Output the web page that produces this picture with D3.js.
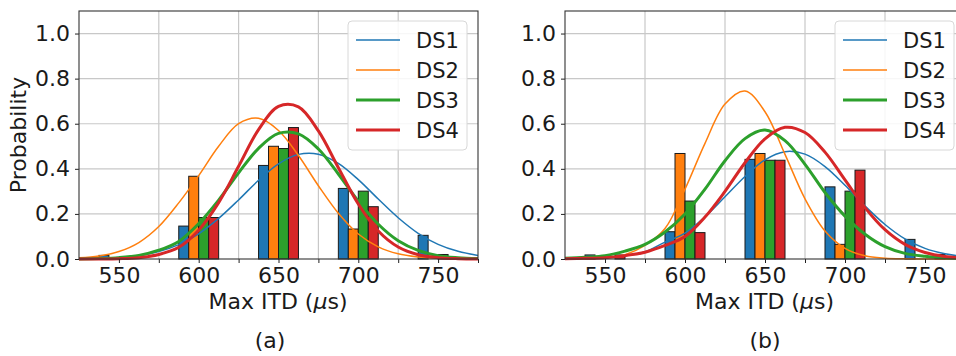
<!DOCTYPE html>
<html>
<head>
<meta charset="utf-8">
<script src="https://cdn.jsdelivr.net/npm/d3@7"></script>
<style>
  body { margin: 0; background: #fff; }
  text { font-family: "DejaVu Sans", sans-serif; fill: #1a1a1a; }
</style>
</head>
<body>
<div id="chart"></div>
<script>
// histogram bins (centre of each 25us bin that has bars) and series
var bins = [550, 600, 650, 700, 750];
var seriesNames = ["DS1", "DS2", "DS3", "DS4"];
var seriesColors = ["#1f77b4", "#ff7f0e", "#2ca02c", "#d62728"];
var seriesWidths = [1.5, 1.5, 3, 3];

// panel (a) bar heights
var barsA_DS1 = [0.016, 0.146, 0.415, 0.313, 0.105];
var barsA_DS2 = [0, 0.367, 0.500, 0.133, 0];
var barsA_DS3 = [0, 0.184, 0.490, 0.301, 0.020];
var barsA_DS4 = [0, 0.184, 0.583, 0.232, 0];

// panel (b) bar heights
var barsB_DS1 = [0.018, 0.121, 0.442, 0.320, 0.087];
var barsB_DS2 = [0, 0.468, 0.468, 0.065, 0];
var barsB_DS3 = [0, 0.257, 0.438, 0.301, 0];
var barsB_DS4 = [0.018, 0.117, 0.438, 0.394, 0.020];

// fitted curves at these x positions
var curveX = [525, 537.5, 550, 562.5, 575, 587.5, 600, 612.5, 625, 637.5, 650,
              662.5, 675, 687.5, 700, 712.5, 725, 737.5, 750, 762.5, 775];

var curveA_DS1 = [0.001, 0.003, 0.007, 0.015, 0.033, 0.064, 0.112, 0.180, 0.262, 0.349, 0.422,
                  0.464, 0.465, 0.424, 0.352, 0.266, 0.183, 0.114, 0.065, 0.034, 0.016];
var curveA_DS2 = [0.005, 0.013, 0.033, 0.073, 0.144, 0.249, 0.370, 0.500, 0.600, 0.624, 0.570,
                  0.459, 0.325, 0.203, 0.111, 0.054, 0.023, 0.009, 0.003, 0.001, 0.0003];
var curveA_DS3 = [0.0005, 0.002, 0.006, 0.016, 0.039, 0.078, 0.157, 0.261, 0.382, 0.491, 0.557,
                  0.555, 0.488, 0.377, 0.256, 0.154, 0.081, 0.038, 0.015, 0.006, 0.002];
var curveA_DS4 = [0, 0.0004, 0.0016, 0.006, 0.020, 0.052, 0.128, 0.250, 0.411, 0.574, 0.677,
                  0.675, 0.568, 0.405, 0.244, 0.124, 0.053, 0.019, 0.006, 0.0015, 0.0003];

var curveB_DS1 = [0.0007, 0.002, 0.006, 0.014, 0.032, 0.075, 0.115, 0.187, 0.276, 0.366, 0.440,
                  0.476, 0.465, 0.410, 0.327, 0.235, 0.153, 0.089, 0.047, 0.023, 0.010];
var curveB_DS2 = [0.0002, 0.001, 0.005, 0.019, 0.060, 0.135, 0.310, 0.513, 0.687, 0.745, 0.653,
                  0.464, 0.267, 0.124, 0.047, 0.014, 0.0035, 0.0007, 0, 0, 0];
var curveB_DS3 = [0.003, 0.008, 0.015, 0.035, 0.065, 0.120, 0.200, 0.310, 0.436, 0.534, 0.572,
                  0.525, 0.420, 0.295, 0.190, 0.110, 0.055, 0.025, 0.012, 0.005, 0.002];
var curveB_DS4 = [0.001, 0.003, 0.006, 0.015, 0.030, 0.060, 0.100, 0.186, 0.300, 0.427, 0.533,
                  0.584, 0.561, 0.474, 0.351, 0.228, 0.130, 0.065, 0.029, 0.011, 0.004];

// axis ticks
var xTicks = [550, 575, 600, 625, 650, 675, 700, 725, 750, 775];
var xTickLabels = [550, 600, 650, 700, 750];
var xGrid = [575, 625, 675, 725];
var yTicks = [0, 0.2, 0.4, 0.6, 0.8, 1.0];

var width = 956, height = 356;
var plotTop = 11, plotBottom = 259;

var svg = d3.select("#chart").append("svg")
    .attr("width", width)
    .attr("height", height);

var panels = [
    { left: 79, right: 478, tag: "(a)", tagX: 270,
      bars: [barsA_DS1, barsA_DS2, barsA_DS3, barsA_DS4],
      curves: [curveA_DS1, curveA_DS2, curveA_DS3, curveA_DS4] },
    { left: 565, right: 965, tag: "(b)", tagX: 765,
      bars: [barsB_DS1, barsB_DS2, barsB_DS3, barsB_DS4],
      curves: [curveB_DS1, curveB_DS2, curveB_DS3, curveB_DS4] }
];

panels.forEach(function(p, pi) {
    var x = d3.scaleLinear().domain([525, 775]).range([p.left, p.right]);
    var y = d3.scaleLinear().domain([0, 1.1]).range([plotBottom, plotTop]);
    // each bin is 25 wide, split into 4 bars
    var inner = d3.scaleBand().domain(seriesNames).range([0, x(550) - x(525)]);

    var g = svg.append("g");

    // grid
    g.selectAll(".gx").data(xGrid).enter().append("line")
        .attr("x1", function(d) { return x(d); })
        .attr("x2", function(d) { return x(d); })
        .attr("y1", plotTop).attr("y2", plotBottom)
        .style("stroke", "#c8c8c8").style("stroke-width", 1.2);
    g.selectAll(".gy").data(yTicks.slice(1)).enter().append("line")
        .attr("x1", p.left).attr("x2", p.right)
        .attr("y1", function(d) { return y(d); })
        .attr("y2", function(d) { return y(d); })
        .style("stroke", "#c8c8c8").style("stroke-width", 1.2);

    // bars
    seriesNames.forEach(function(name, si) {
        var rows = bins.map(function(b, bi) { return { bin: b, v: p.bars[si][bi] }; })
            .filter(function(d) { return d.v > 0; });
        g.selectAll(".bar" + si).data(rows).enter().append("rect")
            .attr("x", function(d) { return x(d.bin - 12.5) + inner(name); })
            .attr("y", function(d) { return y(d.v); })
            .attr("width", inner.bandwidth())
            .attr("height", function(d) { return y(0) - y(d.v); })
            .style("fill", seriesColors[si])
            .style("stroke", "#1a1a1a")
            .style("stroke-width", 1);
    });

    // fitted curves
    var line = d3.line()
        .x(function(d) { return x(d[0]); })
        .y(function(d) { return y(d[1]); })
        .curve(d3.curveCatmullRom);
    seriesNames.forEach(function(name, si) {
        g.append("path")
            .datum(d3.zip(curveX, p.curves[si]))
            .attr("d", line)
            .style("fill", "none")
            .style("stroke", seriesColors[si])
            .style("stroke-width", seriesWidths[si]);
    });

    // axes
    var xAxis = g.append("g")
        .attr("transform", "translate(0," + plotBottom + ")")
        .call(d3.axisBottom(x).tickValues(xTicks).tickSizeInner(4).tickSizeOuter(0).tickPadding(4)
            .tickFormat(function(d) { return xTickLabels.indexOf(d) >= 0 ? d : ""; }));
    var yAxis = g.append("g")
        .attr("transform", "translate(" + p.left + ",0)")
        .call(d3.axisLeft(y).tickValues(yTicks).tickSizeInner(4).tickSizeOuter(0).tickPadding(5)
            .tickFormat(d3.format(".1f")));
    [xAxis, yAxis].forEach(function(a) {
        a.select(".domain").remove();
        a.selectAll("line").style("stroke", "#222").style("stroke-width", 1);
        a.selectAll("text").style("font-size", "22px").style("font-family", "DejaVu Sans");
    });

    // frame
    g.append("rect")
        .attr("x", p.left).attr("y", plotTop)
        .attr("width", p.right - p.left).attr("height", plotBottom - plotTop)
        .style("fill", "none").style("stroke", "#333").style("stroke-width", 1.1);

    // legend
    var lg = g.append("g").attr("transform", "translate(" + (p.right - 130) + ",21)");
    lg.append("rect")
        .attr("width", 119).attr("height", 129).attr("rx", 4)
        .style("fill", "#fff").style("fill-opacity", 0.85)
        .style("stroke", "#d8d8d8").style("stroke-width", 1);
    seriesNames.forEach(function(name, si) {
        var yy = 19 + si * 30;
        lg.append("line")
            .attr("x1", 8).attr("x2", 52).attr("y1", yy).attr("y2", yy)
            .style("stroke", seriesColors[si]).style("stroke-width", seriesWidths[si]);
        lg.append("text")
            .attr("x", 68).attr("y", yy).attr("dy", "0.36em")
            .style("font-size", "21px")
            .text(name);
    });

    // x label
    var xl = g.append("text")
        .attr("x", (p.left + p.right) / 2 - 0.5)
        .attr("y", 309)
        .attr("text-anchor", "middle")
        .style("font-size", "22px");
    xl.append("tspan").text("Max ITD (");
    xl.append("tspan").style("font-style", "italic").text("\u03bc");
    xl.append("tspan").text("s)");

    g.append("text")
        .attr("x", p.tagX).attr("y", 348)
        .attr("text-anchor", "middle")
        .style("font-size", "22px")
        .text(p.tag);

    if (pi === 0) {
        g.append("text")
            .attr("transform", "translate(26," + ((plotTop + plotBottom) / 2) + ") rotate(-90)")
            .attr("text-anchor", "middle")
            .style("font-size", "22px")
            .text("Probability");
    }
});
</script>
</body>
</html>
